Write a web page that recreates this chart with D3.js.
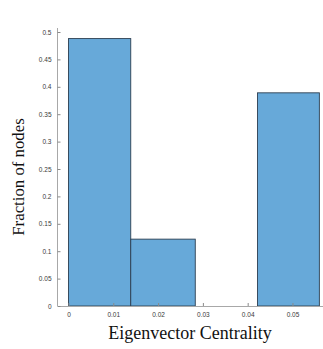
<!DOCTYPE html>
<html>
<head>
<meta charset="utf-8">
<script src="https://cdn.jsdelivr.net/npm/d3@7"></script>
<style>
	body { margin: 0; background: #fff; }
	svg { display: block; }
</style>
</head>
<body>
<div id="vis"></div>
<script>
// histogram bins (edges) and fraction of nodes per bin
var binEdges = [0, 0.0139, 0.0283, 0.0422, 0.0560];
var fractions = [0.488, 0.122, 0, 0.389];
var xTicks = [0, 0.01, 0.02, 0.03, 0.04, 0.05];
var yTicks = [0, 0.05, 0.1, 0.15, 0.2, 0.25, 0.3, 0.35, 0.4, 0.45, 0.5];

var w = 323, h = 349;
var svg = d3.select("#vis").append("svg")
	.attr("width", w)
	.attr("height", h);

var x = d3.scaleLinear().domain([-0.00245, 0.0567]).range([57.5, 322.5]);
var y = d3.scaleLinear().domain([0, 0.5]).range([306, 32]);

var bins = fractions.map(function (f, i) {
	return {x0: binEdges[i], x1: binEdges[i + 1], v: f};
});

svg.selectAll(".bar")
	.data(bins.filter(function (d) { return d.v > 0; }))
	.enter()
	.append("rect")
	.attr("class", "bar")
	.attr("x", function (d) { return x(d.x0); })
	.attr("y", function (d) { return y(d.v); })
	.attr("width", function (d) { return x(d.x1) - x(d.x0); })
	.attr("height", function (d) { return y(0) - y(d.v); })
	.attr("fill", "#67a9d9")
	.attr("stroke", "#2c3e50")
	.attr("stroke-width", 0.9);

// axes, MATLAB style: ticks pointing inward
var xAxis = svg.append("g")
	.attr("transform", "translate(0," + y(0) + ")")
	.call(d3.axisBottom(x).tickValues(xTicks).tickSizeInner(-3).tickSizeOuter(0).tickPadding(6)
		.tickFormat(function (d) { return d === 0 ? "0" : d3.format(".2f")(d); }));

var yAxis = svg.append("g")
	.attr("transform", "translate(" + x.range()[0] + ",0)")
	.call(d3.axisLeft(y).tickValues(yTicks).tickSizeInner(-3).tickSizeOuter(0).tickPadding(6)
		.tickFormat(function (d) { return d === 0 ? "0" : String(+d.toFixed(2)); }));

[xAxis, yAxis].forEach(function (g) {
	g.select(".domain").attr("stroke", "#a8a8a8").attr("stroke-width", 1);
	g.selectAll(".tick line").attr("stroke", "#8a8a8a");
	g.selectAll(".tick text")
		.attr("fill", "#3a3a3a")
		.style("font-family", "'Liberation Sans', Arial, sans-serif")
		.style("font-size", "6.5px");
});
yAxis.select(".domain").attr("d", "M0," + (y(0.5) - 4) + "V" + y(0));

svg.append("text")
	.attr("x", 190)
	.attr("y", 339)
	.attr("text-anchor", "middle")
	.style("font-family", "'Liberation Serif', 'Times New Roman', serif")
	.style("font-size", "18px")
	.attr("fill", "#111")
	.text("Eigenvector Centrality");

svg.append("text")
	.attr("transform", "translate(24,177) rotate(-90)")
	.attr("text-anchor", "middle")
	.style("font-family", "'Liberation Serif', 'Times New Roman', serif")
	.style("font-size", "16.8px")
	.attr("fill", "#111")
	.text("Fraction of nodes");
</script>
</body>
</html>
